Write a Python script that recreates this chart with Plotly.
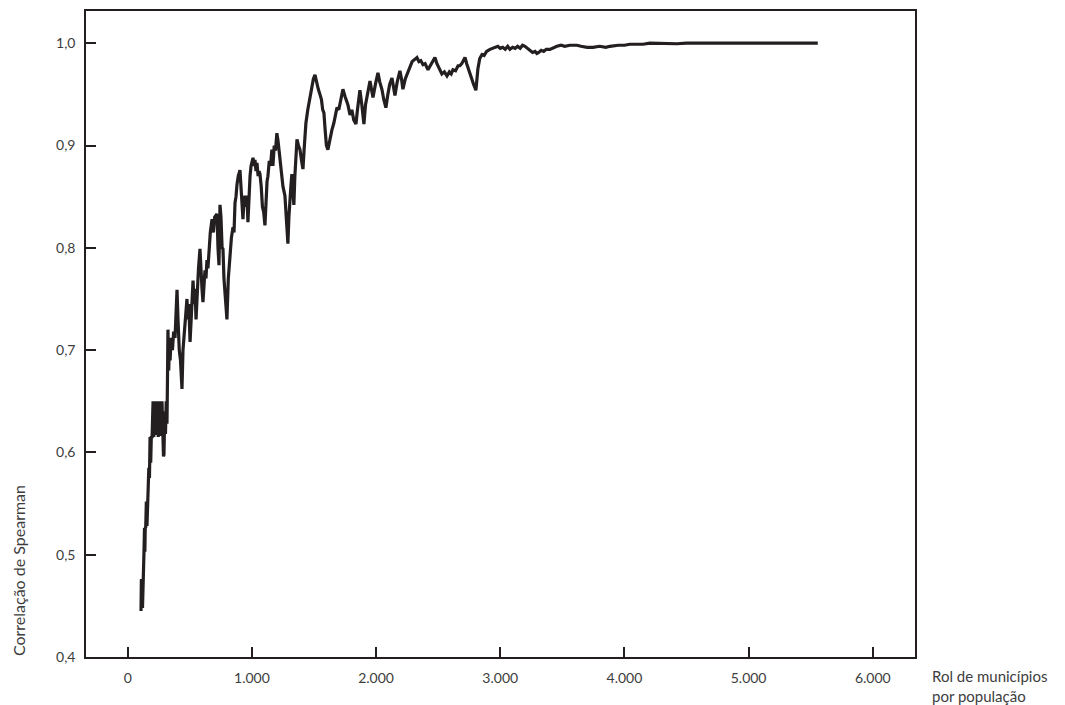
import plotly.graph_objects as go

# Rank of municipalities by population (x) and Spearman correlation (y)
rank = [
    107, 110, 113, 116, 119, 122, 128, 131, 135, 138, 141, 145, 150, 155, 160,
    165, 170, 175, 180, 185, 190, 196,
    204, 210, 216, 222, 228, 234, 240, 246, 252, 258, 264, 270, 276, 282, 288,
    292, 298, 304, 310, 316, 320, 324, 330, 336, 341, 350, 360, 370, 381, 390,
    397, 405, 415, 425, 432, 437, 445, 455, 465, 477, 485, 492, 502, 510, 518,
    526, 535, 542, 550, 560, 570, 582, 590, 598, 606, 615, 622, 630, 638, 646,
    655, 665, 679, 690, 700, 711, 719, 727, 735, 743, 751, 760, 767, 775, 785,
    792, 799, 810, 823, 835, 848, 856, 864, 872, 880, 890, 904, 912, 920, 928,
    936, 944, 952, 960, 968, 976, 985, 993, 1001, 1009, 1018, 1025, 1033, 1041,
    1050, 1058, 1065, 1075, 1085, 1095, 1105, 1115, 1122, 1129, 1140, 1150,
    1161, 1169, 1180, 1190, 1201, 1210, 1218, 1226, 1238, 1250, 1266, 1275,
    1283, 1290, 1298, 1306, 1314, 1322, 1330, 1338, 1346, 1355, 1363, 1375,
    1387, 1400, 1411, 1420, 1435, 1450, 1467, 1480, 1495, 1508, 1520, 1535,
    1548, 1560, 1570, 1580, 1590, 1600, 1612, 1625, 1644, 1660, 1685, 1700,
    1715, 1733, 1750, 1773, 1790, 1805, 1820, 1838, 1850, 1870, 1885, 1902,
    1915, 1935, 1951, 1963, 1975, 1995, 2015, 2030, 2047, 2062, 2079, 2095,
    2110, 2128, 2140, 2152, 2170, 2192, 2205, 2216, 2235, 2255, 2273, 2290,
    2310, 2329, 2345, 2360, 2378, 2395, 2418, 2435, 2455, 2474, 2490, 2514,
    2530, 2550, 2571, 2590, 2605, 2619, 2640, 2660, 2675, 2690, 2705, 2716,
    2730, 2745, 2756, 2770, 2785, 2804, 2820, 2835, 2853, 2870, 2890, 2917,
    2940, 2960, 2981, 3000, 3020, 3040, 3060, 3078, 3100, 3120, 3140, 3160,
    3180, 3199, 3220, 3240, 3260, 3280, 3295, 3310, 3330, 3350, 3370, 3400,
    3430, 3456, 3490, 3520, 3560, 3617, 3650, 3700, 3746, 3800, 3850, 3883,
    3950, 4000, 4043, 4100, 4150, 4204, 4300, 4422, 4500, 4607, 4800, 5000,
    5200, 5400, 5557,
]

spearman = [
    0.445, 0.476, 0.446, 0.475, 0.448, 0.474, 0.476, 0.503, 0.526, 0.503, 0.526,
    0.527, 0.552, 0.528, 0.553,
    0.552, 0.585, 0.575, 0.615, 0.590, 0.616, 0.614,
    0.650, 0.615, 0.648, 0.617, 0.650, 0.618, 0.649, 0.615, 0.650, 0.620, 0.648,
    0.616, 0.650, 0.622, 0.596,
    0.598, 0.640, 0.618, 0.650, 0.628, 0.670, 0.720, 0.680, 0.705, 0.690,
    0.712, 0.700, 0.718, 0.712, 0.740,
    0.759, 0.730, 0.700, 0.690, 0.675, 0.662, 0.700, 0.715, 0.735, 0.750,
    0.730, 0.745, 0.708, 0.735, 0.755,
    0.768, 0.745, 0.760, 0.730, 0.760, 0.780, 0.799, 0.770, 0.760, 0.747,
    0.765, 0.778, 0.770, 0.788, 0.780,
    0.800, 0.815, 0.828, 0.815, 0.830, 0.832, 0.833, 0.800, 0.783, 0.842,
    0.830, 0.800, 0.799, 0.770, 0.750,
    0.740, 0.730, 0.770, 0.793, 0.810, 0.820, 0.815, 0.844, 0.850, 0.862,
    0.870, 0.876, 0.860, 0.850, 0.828,
    0.845, 0.851, 0.840, 0.851, 0.825, 0.850, 0.870, 0.880, 0.885, 0.888,
    0.880, 0.886, 0.875, 0.883,
    0.870, 0.875, 0.872, 0.860, 0.840, 0.835, 0.822, 0.850, 0.865, 0.870,
    0.885, 0.880,
    0.896, 0.880, 0.900, 0.895, 0.912, 0.905, 0.895, 0.890, 0.870, 0.860,
    0.851, 0.835,
    0.820, 0.804, 0.830, 0.850, 0.860, 0.872, 0.860, 0.842, 0.870, 0.895,
    0.906, 0.900,
    0.896, 0.885, 0.877, 0.895, 0.922, 0.935, 0.947, 0.955, 0.965, 0.969,
    0.962, 0.955,
    0.950, 0.945, 0.935, 0.932, 0.915, 0.900, 0.896, 0.905, 0.915, 0.922,
    0.937, 0.935,
    0.945, 0.955, 0.948, 0.940, 0.930, 0.935, 0.925, 0.921, 0.935, 0.954,
    0.940, 0.921,
    0.940, 0.955, 0.963, 0.955, 0.947, 0.960, 0.971, 0.962, 0.955, 0.945,
    0.937, 0.950,
    0.960, 0.966, 0.958, 0.949, 0.962, 0.973, 0.965, 0.955, 0.965, 0.972,
    0.978, 0.982,
    0.984, 0.986, 0.982, 0.983, 0.979, 0.980, 0.974, 0.978, 0.983, 0.986,
    0.980, 0.974,
    0.970, 0.972, 0.968, 0.972, 0.970, 0.974, 0.973, 0.978, 0.978, 0.980,
    0.984, 0.986,
    0.980, 0.974, 0.971, 0.965, 0.960, 0.954, 0.975, 0.985, 0.989, 0.988,
    0.992, 0.994,
    0.995, 0.996, 0.997, 0.995, 0.996, 0.994, 0.997, 0.994, 0.996, 0.995,
    0.997, 0.995,
    0.998, 0.997, 0.995, 0.993, 0.991, 0.992, 0.990, 0.991, 0.993, 0.992,
    0.994, 0.994,
    0.996, 0.997, 0.998, 0.997, 0.998, 0.998, 0.997, 0.996, 0.996, 0.997,
    0.996, 0.997,
    0.998, 0.998, 0.999, 0.999, 0.999, 1.000, 0.9995, 0.9995, 1.000, 1.000,
    1.000, 1.000,
    1.000, 1.000, 1.000,
]

x_ticks = [0, 1000, 2000, 3000, 4000, 5000, 6000]
y_ticks = [0.4, 0.5, 0.6, 0.7, 0.8, 0.9, 1.0]
y_title = "Correlação de Spearman"
x_title = "Rol de municípios<br>por população"

INK = "#231f20"
TXT = "#3d3d3d"
FONT = "Lato, 'Open Sans', sans-serif"

fig = go.Figure()
fig.add_trace(go.Scatter(
    x=rank, y=spearman, mode="lines",
    line=dict(color=INK, width=3.2),
    hoverinfo="skip", showlegend=False,
))

axis_common = dict(
    showline=True, linecolor=INK, linewidth=1.5, mirror=True,
    ticks="inside", ticklen=10, tickwidth=2, tickcolor=INK,
    showgrid=False, zeroline=False,
    tickfont=dict(family=FONT, size=14, color=TXT),
)

# page body has an 8px margin, so the figure is offset by 8px
fig.update_layout(
    width=1057, height=698,
    margin=dict(l=78, r=150, t=1, b=49),
    paper_bgcolor="white", plot_bgcolor="white",
    separators=",.",
    font=dict(family=FONT, size=14, color=TXT),
    xaxis=dict(range=[-336, 6340], tickvals=x_ticks, tickformat=",.0f",
               ticklabelstandoff=7, **axis_common),
    yaxis=dict(range=[0.4, 1.0315], tickvals=y_ticks, tickformat=".1f",
               ticklabelstandoff=6, **axis_common),
    annotations=[
        dict(text=y_title, xref="paper", yref="paper", x=-0.082, y=0.133,
             xanchor="center", yanchor="middle", textangle=-90,
             showarrow=False, font=dict(family=FONT, size=16, color=TXT)),
        dict(text=x_title, xref="paper", yref="paper", x=1.0175, y=-0.045,
             xanchor="left", yanchor="middle", align="left",
             showarrow=False, font=dict(family=FONT, size=15, color=TXT)),
    ],
)

fig.write_html("out.html")
